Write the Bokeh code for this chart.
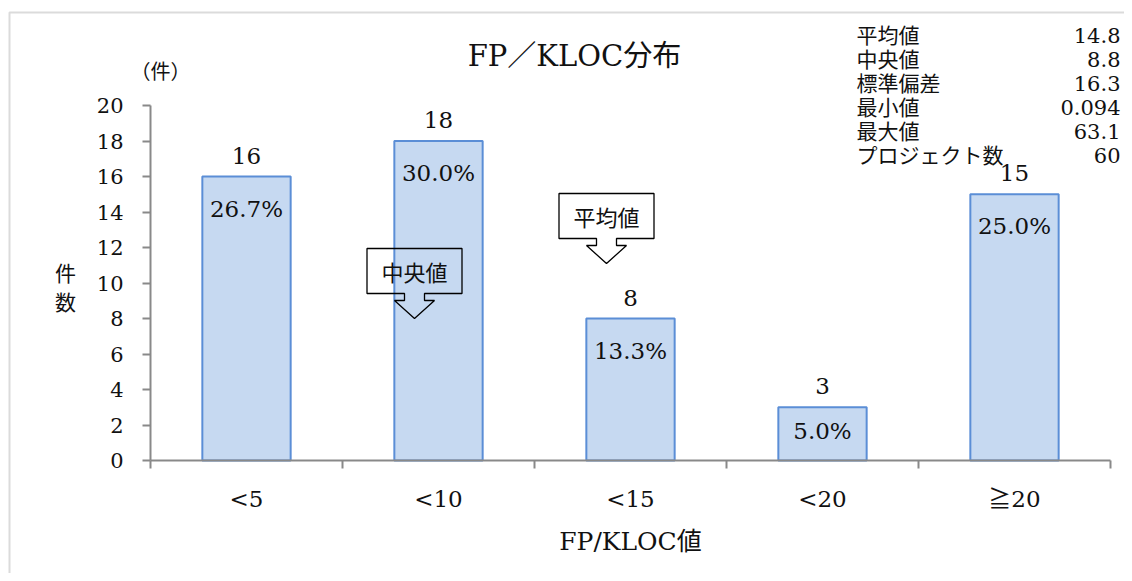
from bokeh.plotting import figure
from bokeh.models import FixedTicker, Label, BoxAnnotation, ColumnDataSource, Range1d
from bokeh.core.properties import value
from bokeh.embed import file_html
from bokeh.resources import INLINE

# ---------------- data ----------------
categories = ["<5", "<10", "<15", "<20", "≧20"]
counts = [16, 18, 8, 3, 15]
y_ticks = [0, 2, 4, 6, 8, 10, 12, 14, 16, 18, 20]
title_text = "FP／KLOC分布"
x_label = "FP/KLOC値"
y_label_chars = ["件", "数"]
y_unit = "（件）"
stat_names = ["平均値", "中央値", "標準偏差", "最小値", "最大値", "プロジェクト数"]
stat_values = ["14.8", "8.8", "16.3", "0.094", "63.1", "60"]
callout_texts = ["中央値", "平均値"]

# ---------------- layout helpers (screen pixel -> data) ----------------
W, H = 1124, 573
ORIGIN = 0                                   # canvas offset observed in the screenshot
FX0, FX1, FY0, FY1 = 150, 1110, 460, 105   # plot-area edges in screen pixels
XMAX, YMAX = len(categories), 20


def dx(px):
    return (px - FX0) / (FX1 - FX0) * XMAX


def dy(py):
    return (FY0 - py) / (FY0 - FY1) * YMAX


PX_PER_Y = (FY0 - FY1) / YMAX

SERIF = "'DejaVu Serif', 'Noto Sans CJK JP'"
CJK = "'Noto Sans CJK JP'"
GRAY = "#898989"
TXT = "#111111"

p = figure(width=W, height=H,
           x_range=Range1d(dx(ORIGIN), dx(ORIGIN + W)),
           y_range=Range1d(dy(ORIGIN + H), dy(ORIGIN)),
           output_backend="svg", toolbar_location=None,
           min_border=0, min_border_left=0, min_border_right=0,
           min_border_top=0, min_border_bottom=0)
p.outline_line_color = None
p.xgrid.visible = False
p.ygrid.visible = False
p.background_fill_color = "white"
p.border_fill_color = "white"

# outer chart border
p.add_layout(BoxAnnotation(left=dx(9), right=dx(1160), top=dy(12), bottom=dy(620),
                           fill_alpha=0, line_color=GRAY, line_width=2, level="underlay"))

# bars
centers = [i + 0.5 for i in range(len(categories))]
total = sum(counts)
pct = ["%.1f%%" % (c / total * 100) for c in counts]
lab_y = [c + 21 / PX_PER_Y for c in counts]
pct_y = [c - min(32, 0.45 * c * PX_PER_Y) / PX_PER_Y for c in counts]
src = ColumnDataSource(dict(x=centers, top=counts, cnt=[str(c) for c in counts],
                            lab_y=lab_y, pct=pct, pct_y=pct_y))
p.vbar(x="x", top="top", width=0.46, source=src, fill_color="#C6D9F1",
       line_color="#5B8ED6", line_width=2)
p.text(x="x", y="lab_y", text="cnt", source=src, text_align="center",
       text_baseline="middle", text_font=value(SERIF), text_font_size="23px", text_color=TXT)
p.text(x="x", y="pct_y", text="pct", source=src, text_align="center",
       text_baseline="middle", text_font=value(SERIF), text_font_size="23px", text_color=TXT)

# axes (drawn at the data origin)
xa = p.xaxis[0]
xa.fixed_location = 0
xa.bounds = (0, XMAX)
xa.ticker = FixedTicker(ticks=centers, minor_ticks=list(range(len(categories) + 1)))
xa.major_label_overrides = {c: lab for c, lab in zip(centers, categories)}
xa.major_tick_line_color = None
xa.minor_tick_in = 0
xa.minor_tick_out = 8
xa.minor_tick_line_color = GRAY
xa.minor_tick_line_width = 2
xa.axis_line_color = GRAY
xa.axis_line_width = 2
xa.major_label_text_font = SERIF
xa.major_label_text_font_size = "23px"
xa.major_label_text_color = TXT
xa.major_label_standoff = 17
xa.axis_label = x_label
xa.axis_label_text_font = SERIF
xa.axis_label_text_font_size = "25px"
xa.axis_label_text_font_style = "normal"
xa.axis_label_text_color = TXT
xa.axis_label_standoff = 12

ya = p.yaxis[0]
ya.fixed_location = 0
ya.bounds = (0, YMAX)
ya.ticker = FixedTicker(ticks=y_ticks, minor_ticks=[])
ya.major_tick_in = 0
ya.major_tick_out = 8
ya.major_tick_line_color = GRAY
ya.major_tick_line_width = 2
ya.axis_line_color = GRAY
ya.axis_line_width = 2
ya.major_label_text_font = SERIF
ya.major_label_text_font_size = "21px"
ya.major_label_text_color = TXT
ya.major_label_standoff = 19

# y axis label (stacked characters) and unit
for i, ch in enumerate(y_label_chars):
    p.add_layout(Label(x=dx(65), y=dy(271 + 29 * i), text=ch, text_align="center",
                       text_baseline="middle", text_font=CJK, text_font_size="21px",
                       text_color=TXT))
p.add_layout(Label(x=dx(160), y=dy(70), text=y_unit, text_align="center",
                   text_baseline="middle", text_font=CJK, text_font_size="20px",
                   text_color=TXT))

# title
p.add_layout(Label(x=dx(574), y=dy(55), text=title_text, text_align="center",
                   text_baseline="middle", text_font=SERIF, text_font_size="29px",
                   text_color=TXT))

# statistics block
for i, (n, v) in enumerate(zip(stat_names, stat_values)):
    yy = dy(35 + 24 * i)
    p.add_layout(Label(x=dx(856), y=yy, text=n, text_align="left", text_baseline="middle",
                       text_font=SERIF, text_font_size="21px", text_color=TXT))
    p.add_layout(Label(x=dx(1120), y=yy, text=v, text_align="right", text_baseline="middle",
                       text_font=SERIF, text_font_size="21px", text_color=TXT))


# callouts (down-arrow boxes)
def callout(cx, top, bw=95, bh=45, sw=10, hw=20, sh=7, th=18):
    L, R, B = cx - bw / 2, cx + bw / 2, top + bh
    pts = [(L, top), (R, top), (R, B), (cx + sw, B), (cx + sw, B + sh), (cx + hw, B + sh),
           (cx, B + sh + th), (cx - hw, B + sh), (cx - sw, B + sh), (cx - sw, B), (L, B)]
    return [dx(a) for a, b in pts], [dy(b) for a, b in pts]


callout_pos = [(414, 248), (606, 193)]
cxs, cys = [], []
for (cx, top), t in zip(callout_pos, callout_texts):
    xs, ys = callout(cx, top)
    cxs.append(xs)
    cys.append(ys)
    p.add_layout(Label(x=dx(cx), y=dy(top + 22), text=t, text_align="center",
                       text_baseline="middle", text_font=CJK, text_font_size="22px",
                       text_color=TXT))
p.patches(cxs, cys, fill_alpha=0, line_color="#000000", line_width=1.3)

open("out.html", "w").write(file_html(p, INLINE))
